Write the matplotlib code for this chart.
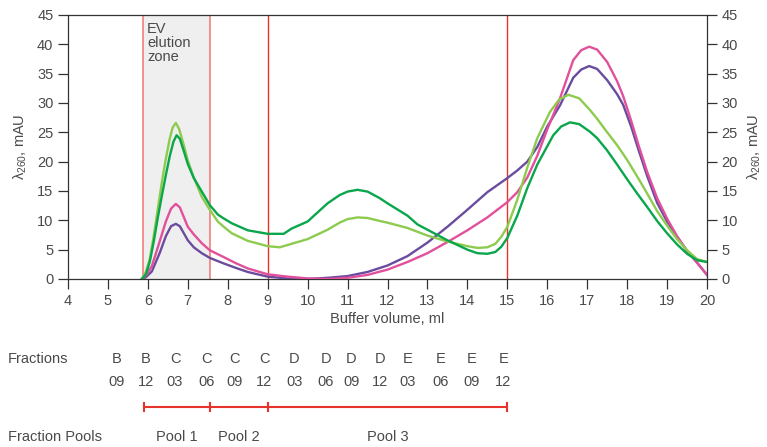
import numpy as np
import matplotlib
matplotlib.use('Agg')
import matplotlib.pyplot as plt
import matplotlib.transforms as mtransforms

plt.rcParams['font.family'] = ['Liberation Sans', 'DejaVu Sans']
plt.rcParams['font.size'] = 10.5

# Chromatogramme
x_lg = [5.85, 5.95, 6.05, 6.15, 6.25, 6.35, 6.45, 6.55, 6.62, 6.7, 6.78, 6.9, 7.0, 7.15, 7.35, 7.55,
        7.75, 7.9, 8.1, 8.5, 9.0, 9.3, 9.6, 10.0, 10.5, 10.8, 11.0, 11.25, 11.5, 11.8, 12.0, 12.5,
        13.0, 13.5, 14.0, 14.25, 14.5, 14.7, 14.85, 15.0, 15.25, 15.5, 15.75, 16.07, 16.3, 16.53,
        16.8, 17.07, 17.25, 17.49, 17.75, 18.0, 18.25, 18.5, 18.75, 19.0, 19.25, 19.5, 19.75, 20.0]
y_lg = [0, 1.2, 3.5, 7.5, 12, 16.5, 20.5, 24, 25.8, 26.6, 25.6, 22.8, 20.2, 17.3, 14, 11.8,
        9.8, 8.9, 7.8, 6.5, 5.6, 5.4, 6.0, 6.8, 8.4, 9.6, 10.2, 10.5, 10.4, 9.9, 9.6, 8.7,
        7.4, 6.4, 5.6, 5.3, 5.4, 6.0, 7.2, 8.9, 13.5, 19, 24, 28.5, 30.6, 31.4,
        30.8, 28.8, 27.3, 25.1, 22.8, 20.3, 17.5, 14.6, 11.6, 9.1, 6.8, 4.9, 3.4, 2.9]

x_dg = [5.85, 5.95, 6.05, 6.15, 6.25, 6.35, 6.45, 6.55, 6.64, 6.72, 6.8, 6.9, 7.0, 7.15, 7.35, 7.55,
        7.75, 7.88, 8.1, 8.5, 9.0, 9.4, 9.6, 10.0, 10.5, 10.8, 11.0, 11.25, 11.5, 11.8, 12.0, 12.5,
        12.75, 13.0, 13.5, 14.0, 14.25, 14.5, 14.7, 14.85, 15.0, 15.25, 15.5, 15.75, 16.15, 16.35,
        16.57, 16.8, 17.07, 17.25, 17.49, 17.75, 18.0, 18.25, 18.5, 18.75, 19.0, 19.25, 19.5, 19.75,
        20.0]
y_dg = [0, 0.8, 3, 6.5, 10.5, 14.2, 17.7, 21, 23.4, 24.5, 23.9, 21.8, 19.6, 17.2, 14.9, 12.6,
        11.0, 10.4, 9.5, 8.3, 7.7, 7.7, 8.6, 9.8, 12.9, 14.3, 14.9, 15.2, 14.9, 13.8, 12.9, 10.8,
        9.3, 8.4, 6.6, 5.0, 4.4, 4.3, 4.6, 5.5, 7.0, 10.8, 15.5, 19.5, 24.5, 26.0,
        26.7, 26.4, 25.1, 24.0, 22.0, 19.5, 17.0, 14.6, 12.3, 9.9, 7.8, 5.9, 4.3, 3.2, 2.9]

x_pk = [5.85, 5.95, 6.1, 6.3, 6.45, 6.58, 6.7, 6.8, 7.0, 7.15, 7.35, 7.55, 7.88, 8.2, 8.5, 9.0,
        9.5, 10.0, 10.5, 11.0, 11.5, 12.0, 12.5, 13.0, 13.5, 14.0, 14.5, 15.0, 15.25, 15.5, 15.75,
        16.0, 16.32, 16.65, 16.85, 17.05, 17.25, 17.5, 17.75, 17.9, 18.1, 18.3, 18.5, 18.75, 19.0,
        19.25, 19.5, 19.75, 20.0]
y_pk = [0, 0.6, 2.2, 6.5, 9.8, 12.0, 12.8, 12.2, 8.9, 7.6, 6.1, 4.9, 3.8, 2.7, 1.8, 0.8,
        0.4, 0.1, 0.0, 0.2, 0.7, 1.6, 2.9, 4.4, 6.3, 8.3, 10.5, 13.1, 14.8, 17.3, 21,
        25.5, 30.8, 37.3, 39.0, 39.6, 39.1, 37.0, 33.7, 31.2, 27.0, 22.5, 18.3, 13.8, 10.3,
        7.3, 4.8, 2.8, 0.7]

x_pu = [5.85, 5.95, 6.1, 6.3, 6.45, 6.58, 6.7, 6.8, 7.0, 7.15, 7.35, 7.55, 7.88, 8.2, 8.5, 9.0,
        9.5, 10.0, 10.5, 11.0, 11.5, 12.0, 12.5, 13.0, 13.5, 14.0, 14.5, 15.0, 15.25, 15.5, 15.75,
        16.0, 16.32, 16.65, 16.85, 17.05, 17.25, 17.5, 17.75, 17.9, 18.1, 18.3, 18.5, 18.75, 19.0,
        19.25, 19.5, 19.75, 20.0]
y_pu = [0, 0.3, 1.3, 4.5, 7.3, 9.0, 9.4, 9.0, 6.6, 5.4, 4.4, 3.6, 2.7, 1.9, 1.2, 0.4,
        0.1, 0.0, 0.2, 0.5, 1.2, 2.3, 3.9, 6.2, 8.9, 11.8, 14.8, 17.2, 18.5, 20.0, 22.5,
        26.0, 29.6, 34.3, 35.7, 36.3, 35.8, 33.9, 31.5, 29.7, 26.0, 21.7, 17.6, 13.0, 9.8,
        7.2, 4.8, 2.8, 0.7]

# EV-Zone und Markierungen
ev_zone = (5.88, 7.55)
marker_lines = [9.0, 15.0]

# Fraktionen
frac_letter = ['B', 'B', 'C', 'C', 'C', 'C', 'D', 'D', 'D', 'D', 'E', 'E', 'E', 'E']
frac_num = ['09', '12', '03', '06', '09', '12', '03', '06', '09', '12', '03', '06', '09', '12']
frac_pos = [5.22, 5.95, 6.68, 7.47, 8.18, 8.92, 9.67, 10.45, 11.09, 11.81, 12.51, 13.33, 14.1, 14.9]

pool_edges = [5.9, 7.55, 9.0, 15.0]
pool_names = ['Pool 1', 'Pool 2', 'Pool 3']

txt = '#4a4a4a'
red = '#e8322c'

fig = plt.figure(figsize=(7.67, 4.47), dpi=100)
ax = fig.add_axes([68/767, 168/447, 639/767, 264/447])

ax.axvspan(*ev_zone, color='#efefef', zorder=0, lw=0)
for v in ev_zone:
    ax.axvline(v, color='#f07670', lw=1.1, zorder=1)
for v in marker_lines:
    ax.axvline(v, color=red, lw=1.0, zorder=1)

ax.plot(x_pu, y_pu, color='#6a4c9f', lw=1.7, zorder=3)
ax.plot(x_pk, y_pk, color='#e2509c', lw=1.7, zorder=3)
ax.plot(x_lg, y_lg, color='#8dcb4e', lw=1.7, zorder=3)
ax.plot(x_dg, y_dg, color='#0aa64c', lw=1.7, zorder=4)

ax.text(5.98, 43.8, 'EV\nelution\nzone', va='top', ha='left', color=txt, fontsize=10.5,
        linespacing=1.0)

ax.set_xlim(4, 20)
ax.set_ylim(0, 45)
ax.set_xticks(np.arange(4, 21, 1))
ax.set_yticks(np.arange(0, 46, 5))
ax.tick_params(direction='out', length=7, width=0.9, color='#333333', labelcolor=txt,
               right=True, labelright=True, labelsize=10.5)
for s in ax.spines.values():
    s.set_color('#333333')
    s.set_linewidth(0.9)

ax.set_xlabel('Buffer volume, ml', color=txt, fontsize=10.5, labelpad=3)
ax.set_ylabel(r'$\mathregular{\lambda_{260}}$, mAU', color=txt, fontsize=10.5, labelpad=6)
ax2 = ax.secondary_yaxis('right')
ax2.set_yticks([])
ax2.spines['right'].set_visible(False)
ax2.set_ylabel(r'$\mathregular{\lambda_{260}}$, mAU', color=txt, fontsize=10.5, labelpad=28)

# Beschriftung unterhalb
trans = mtransforms.blended_transform_factory(ax.transData, fig.transFigure)
fig.text(8/767, 1 - 359/447, 'Fractions', va='center', ha='left', color=txt, fontsize=10.5)
fig.text(8/767, 1 - 437/447, 'Fraction Pools', va='center', ha='left', color=txt, fontsize=10.5)
for l, n, p in zip(frac_letter, frac_num, frac_pos):
    fig.text(p, 1 - 359/447, l, transform=trans, ha='center', va='center', color=txt, fontsize=10.5)
    fig.text(p, 1 - 382/447, n, transform=trans, ha='center', va='center', color=txt, fontsize=10.5)

ybar = 1 - 407/447
fig.add_artist(plt.Line2D([pool_edges[0], pool_edges[-1]], [ybar, ybar], transform=trans,
                          color=red, lw=1.5))
for e in pool_edges:
    fig.add_artist(plt.Line2D([e, e], [ybar - 4/447, ybar + 4/447], transform=trans,
                              color=red, lw=1.5))
for i, name in enumerate(pool_names):
    mid = (pool_edges[i] + pool_edges[i + 1]) / 2
    fig.text(mid, 1 - 437/447, name, transform=trans, ha='center', va='center', color=txt,
             fontsize=10.5)

fig.savefig('out.png', dpi=100)
